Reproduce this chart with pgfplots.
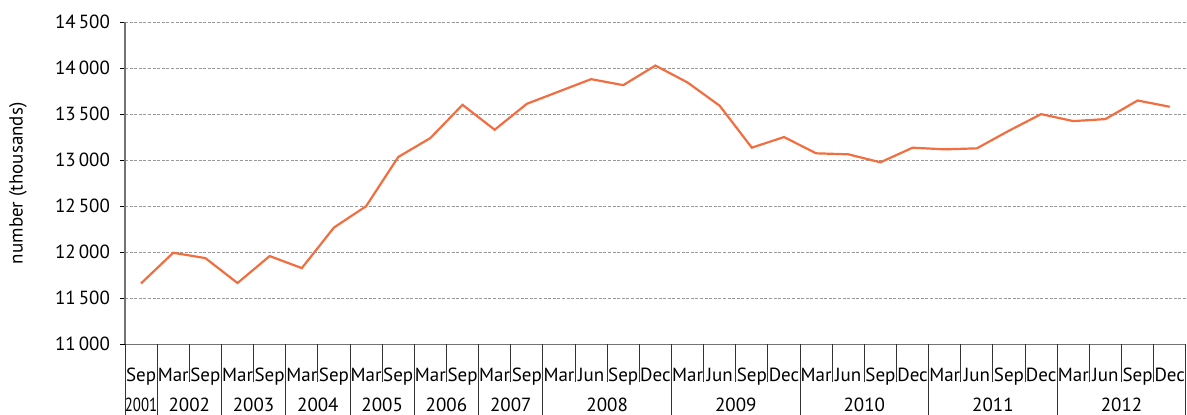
\documentclass[border=0pt]{standalone}
\usepackage{fontspec}
\setmainfont{PT Sans}
\usepackage{pgfplots}
\pgfplotsset{compat=1.18}
\usepackage{pgfplotstable}
\definecolor{lineor}{RGB}{242,110,64}
\pgfplotstableread{
idx val
0 11662
1 11995
2 11937
3 11666
4 11959
5 11828
6 12269
7 12501
8 13036
9 13242
10 13603
11 13332
12 13614
13 13748
14 13882
15 13817
16 14030
17 13846
18 13593
19 13137
20 13253
21 13076
22 13065
23 12978
24 13137
25 13119
26 13130
27 13322
28 13502
29 13426
30 13448
31 13650
32 13582
}\datatable
\begin{document}
\begin{tikzpicture}
\begin{axis}[
  name=ax,
  scale only axis,
  width=530.4bp, height=161bp,
  xmin=-0.5, xmax=32.5,
  ymin=11000, ymax=14500,
  axis x line=bottom, axis y line=left,
  axis line style={-, draw=black!55, line width=0.6bp},
  clip=false,
  ytick={11000,11500,...,14500},
  scaled y ticks=false,
  ymajorgrids,
  major grid style={draw=black!40, line width=0.5bp, dash pattern=on 1.5bp off 0.8bp},
  ytick style={draw=black, line width=0.5bp},
  tick align=outside,
  major tick length=2.5bp,
  xtick={0,...,32},
  x tick style={draw=none},
  xticklabels={Sep,Mar,Sep,Mar,Sep,Mar,Sep,Mar,Sep,Mar,Sep,Mar,Sep,Mar,Jun,Sep,Dec,Mar,Jun,Sep,Dec,Mar,Jun,Sep,Dec,Mar,Jun,Sep,Dec,Mar,Jun,Sep,Dec},
  xticklabel style={anchor=base, yshift=-16.15bp, font=\fontsize{9.5bp}{11bp}\selectfont, inner sep=0pt},
  yticklabel style={font=\fontsize{9.5bp}{11bp}\selectfont, xshift=-1.5bp},
  /pgf/number format/assume math mode=true,
  /pgf/number format/.cd, fixed, precision=0, 1000 sep={\,}, /pgfplots/.cd,
  ylabel={number (thousands)},
  ylabel style={at={(axis description cs:-0.1009,0.5)}, anchor=center, font=\fontsize{9.5bp}{11bp}\selectfont},
]
\addplot[draw=lineor, line width=1.1bp, mark=none] table[x=idx, y=val] {\datatable};
\end{axis}
% separators
\foreach \k in {2,4,6,8,10,12,14,15,16,18,19,20,22,23,24,26,27,28,30,31,32} {
  \draw[black!80, line width=0.5bp] ([xshift=\k*16.0727bp]ax.south west) -- ++(0,-18.65bp);
}
\foreach \k in {0,1,3,5,7,9,11,13,17,21,25,29,33} {
  \draw[black!80, line width=0.5bp] ([xshift=\k*16.0727bp]ax.south west) -- ++(0,-35.3bp);
}
% year labels
\foreach \c/\y in {1.5/2002,3.5/2003,5.5/2004,7.5/2005,9.5/2006,11.5/2007,14.5/2008,18.5/2009,22.5/2010,26.5/2011,30.5/2012} {
  \node[anchor=base, inner sep=0pt, font=\fontsize{9.5bp}{11bp}\selectfont] at ([xshift=\c*16.0727bp+8.0364bp, yshift=-33.7bp]ax.south west) {\y};
}
\node[anchor=base, inner sep=0pt, font=\fontsize{9.5bp}{11bp}\selectfont] at ([xshift=8.0364bp, yshift=-33.7bp]ax.south west) {\scalebox{0.78}[1]{2001}};
\pgfresetboundingbox
\path[use as bounding box] ([xshift=-62.5bp,yshift=-35.3bp]ax.south west) rectangle ([xshift=0.6bp,yshift=11.15bp]ax.north east);
\end{tikzpicture}
\end{document}
